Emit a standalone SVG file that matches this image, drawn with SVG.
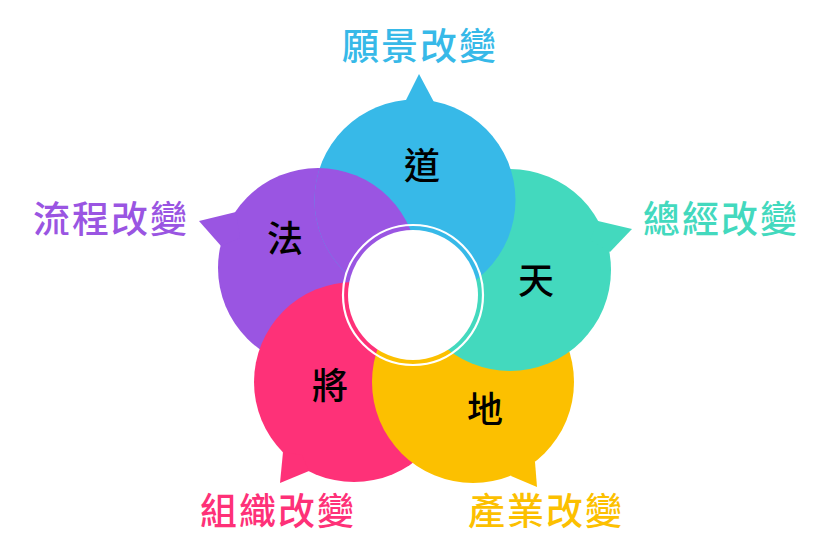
<svg xmlns="http://www.w3.org/2000/svg" xmlns:xlink="http://www.w3.org/1999/xlink" width="838" height="558" viewBox="0 0 838 558">
<style>
.lbl{font-family:"Noto Sans CJK TC","Noto Sans CJK SC",sans-serif;font-size:37px;font-weight:500;letter-spacing:2px;text-anchor:middle}
.ch{font-family:"Noto Sans CJK TC","Noto Sans CJK SC",sans-serif;font-size:36px;font-weight:500;fill:#000;text-anchor:middle}
.blue{fill:#37B9E8}.teal{fill:#43D9BE}.yellow{fill:#FCC000}.pink{fill:#FE3178}.purple{fill:#9A55E2}
</style>
<defs>
<clipPath id="clipBlue"><circle cx="415" cy="200" r="100.5"/></clipPath>
</defs>
<rect width="838" height="558" fill="#fff"/>
<g id="node-purple">
<circle id="cPurple" class="purple" cx="318" cy="268" r="100"/>
<polygon class="purple" points="236,212 199,221 221,246 240,238"/>
</g>
<g id="node-pink">
<circle class="pink" cx="354" cy="382" r="100"/>
<polygon class="pink" points="283,452 280,483 309,471 302,455"/>
</g>
<g id="node-yellow">
<circle class="yellow" cx="473" cy="382" r="101"/>
<polygon class="yellow" points="535,462 537,487 511,476 515,460"/>
</g>
<g id="node-teal">
<circle class="teal" cx="510" cy="270" r="101"/>
<polygon class="teal" points="598,221 632,229 610,252 590,240"/>
</g>
<g id="node-blue">
<circle class="blue" cx="415" cy="200" r="100.5"/>
<polygon class="blue" points="404,104 419,74 435,104"/>
</g>
<g id="purple-overlap">
<use xlink:href="#cPurple" href="#cPurple" clip-path="url(#clipBlue)"/>
</g>
<g id="node-center">
<circle cx="413" cy="295" r="70" fill="none" stroke="#fff" stroke-width="2.2"/>
<circle cx="413" cy="295" r="65" fill="#fff"/>
</g>
<g id="chars">
<text class="ch" x="422" y="179">道</text>
<text class="ch" x="285" y="252">法</text>
<text class="ch" x="536" y="294">天</text>
<text class="ch" x="485" y="423">地</text>
<text class="ch" x="330" y="399">將</text>
</g>
<g id="labels">
<text class="lbl" x="420" y="60" fill="#37B9E8">願景改變</text>
<text class="lbl" x="721" y="233" fill="#43D9BE">總經改變</text>
<text class="lbl" x="546" y="525" fill="#FCC000">產業改變</text>
<text class="lbl" x="278" y="525" fill="#FE3178">組織改變</text>
<text class="lbl" x="111" y="233" fill="#9A55E2">流程改變</text>
</g>
<g id="connectors"></g>
</svg>
